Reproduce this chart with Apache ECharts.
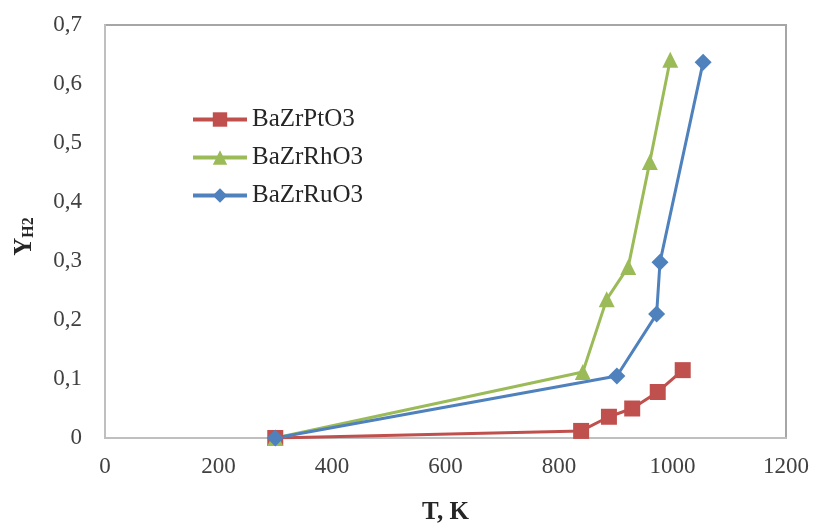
<!DOCTYPE html>
<html>
<head>
<meta charset="utf-8">
<script src="https://cdn.jsdelivr.net/npm/echarts@6/dist/echarts.min.js"></script>
<style>html,body{margin:0;padding:0;background:#fff;}#c{width:817px;height:525px;}</style>
</head>
<body>
<div id="c"></div>
<script>
var seriesNames = ['BaZrPtO3', 'BaZrRhO3', 'BaZrRuO3'];
var ptT = [300, 839, 888, 929, 974, 1018];
var ptY = [0, 0.012, 0.036, 0.050, 0.078, 0.115];
var rhT = [300, 842, 884, 922, 960, 996];
var rhY = [0, 0.112, 0.235, 0.290, 0.468, 0.641];
var ruT = [300, 902, 972, 978, 1054];
var ruY = [0, 0.105, 0.210, 0.298, 0.637];
var xTicks = [0, 200, 400, 600, 800, 1000, 1200];
var yTicks = [0, 0.1, 0.2, 0.3, 0.4, 0.5, 0.6, 0.7];

function pairs(xs, ys) { return xs.map(function (x, i) { return [x, ys[i]]; }); }

var font = 'Liberation Serif';
var chart = echarts.init(document.getElementById('c'));
chart.setOption({
  animation: false,
  backgroundColor: '#fff',
  grid: { left: 105, right: 31, top: 25, bottom: 87, show: true, borderColor: '#a6a6a6', borderWidth: 2,
    outerBoundsMode: 'none', containLabel: false },
  legend: {
    orient: 'vertical', left: 186, top: 102, itemGap: 13, itemWidth: 54, itemHeight: 18,
    lineStyle: { width: 4 },
    textStyle: { fontFamily: font, fontSize: 25, color: '#262626' },
    data: seriesNames
  },
  xAxis: {
    type: 'value', min: xTicks[0], max: xTicks[xTicks.length - 1], interval: 200,
    axisLine: { show: true, lineStyle: { color: '#bfbfbf', width: 2 } },
    axisTick: { show: false }, splitLine: { show: false },
    axisLabel: { fontFamily: font, fontSize: 23, color: '#404040', margin: 17,
      formatter: function (v) { return String(v); } },
    name: 'T, K', nameLocation: 'middle', nameGap: 62,
    nameTextStyle: { fontFamily: font, fontSize: 25, fontWeight: 'bold', color: '#262626' }
  },
  yAxis: {
    type: 'value', min: yTicks[0], max: yTicks[yTicks.length - 1], interval: 0.1,
    axisLine: { show: true, lineStyle: { color: '#bfbfbf', width: 2 } },
    axisTick: { show: false }, splitLine: { show: false },
    axisLabel: { fontFamily: font, fontSize: 23, color: '#404040', margin: 23,
      formatter: function (v) { return String(Math.round(v * 10) / 10).replace('.', ','); } },
    name: '{y|Y}{s|H2}', nameLocation: 'middle', nameGap: 68, nameRotate: 90,
    nameTextStyle: { padding: [0, 10, 0, 0], rich: {
      y: { fontFamily: font, fontSize: 25, fontWeight: 'bold', color: '#262626' },
      s: { fontFamily: font, fontSize: 16, fontWeight: 'bold', color: '#262626', verticalAlign: 'bottom', padding: [8, 0, 0, 0] }
    } }
  },
  series: [
    { name: seriesNames[0], type: 'line', data: pairs(ptT, ptY), symbol: 'rect', symbolSize: 16,
      lineStyle: { width: 3, color: '#c0504d' }, itemStyle: { color: '#c0504d' } },
    { name: seriesNames[1], type: 'line', data: pairs(rhT, rhY), symbol: 'triangle', symbolSize: 16,
      lineStyle: { width: 3, color: '#9bbb59' }, itemStyle: { color: '#9bbb59' } },
    { name: seriesNames[2], type: 'line', data: pairs(ruT, ruY), symbol: 'diamond', symbolSize: 17,
      lineStyle: { width: 3, color: '#4f81bd' }, itemStyle: { color: '#4f81bd' } }
  ]
});
</script>
</body>
</html>
